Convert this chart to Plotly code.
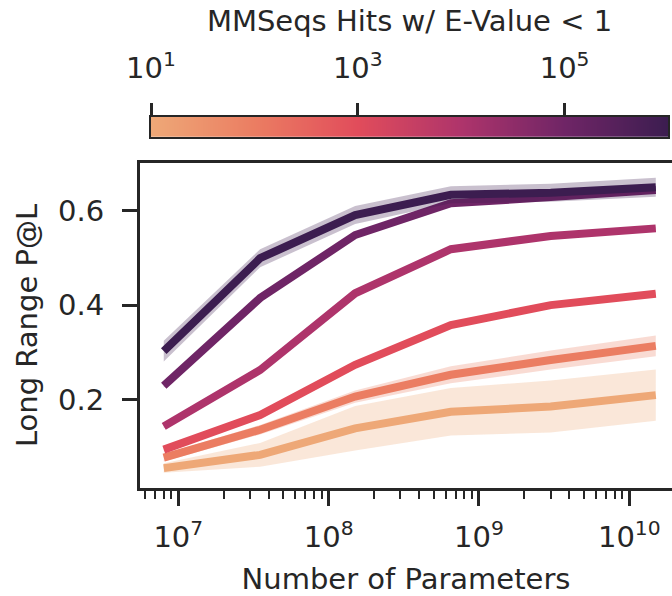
import plotly.graph_objects as go
from plotly.colors import sample_colorscale

# ---------------- data ----------------
params = [8e6, 35e6, 150e6, 650e6, 3e9, 15e9]
hit_exponents = [1, 2, 3, 4, 5, 6]          # log10(MMSeqs hits) per series

pal_1e1 = [0.056, 0.084, 0.140, 0.175, 0.186, 0.210]
pal_1e2 = [0.078, 0.137, 0.207, 0.253, 0.284, 0.314]
pal_1e3 = [0.095, 0.168, 0.274, 0.358, 0.400, 0.424]
pal_1e4 = [0.144, 0.263, 0.425, 0.518, 0.546, 0.562]
pal_1e5 = [0.230, 0.415, 0.548, 0.615, 0.628, 0.643]
pal_1e6 = [0.303, 0.499, 0.590, 0.633, 0.637, 0.649]

err_1e1 = [0.010, 0.025, 0.047, 0.050, 0.055, 0.054]
err_1e2 = [0.008, 0.010, 0.013, 0.018, 0.020, 0.022]
err_1e3 = [0.004, 0.004, 0.005, 0.005, 0.005, 0.005]
err_1e4 = [0.004, 0.004, 0.004, 0.004, 0.004, 0.004]
err_1e5 = [0.004, 0.004, 0.004, 0.004, 0.004, 0.004]
err_1e6 = [0.022, 0.019, 0.019, 0.018, 0.019, 0.020]

series_means = [pal_1e1, pal_1e2, pal_1e3, pal_1e4, pal_1e5, pal_1e6]
series_errs = [err_1e1, err_1e2, err_1e3, err_1e4, err_1e5, err_1e6]

x_tickvals = [1e7, 1e8, 1e9, 1e10]
x_ticktext = ["10<sup>7</sup>", "10<sup>8</sup>", "10<sup>9</sup>", "10<sup>10</sup>"]
y_tickvals = [0.2, 0.4, 0.6]
y_ticktext = ["0.2", "0.4", "0.6"]
cb_range = [1, 6]                             # colour bar spans 10^1 .. 10^6
cb_tickvals = [1, 3, 5]
cb_ticktext = ["10<sup>1</sup>", "10<sup>3</sup>", "10<sup>5</sup>"]

# ---------------- style ----------------
CSCALE = [[0.0, "#eea877"], [0.2, "#eb7d62"], [0.4, "#e14c5b"],
          [0.6, "#ae346b"], [0.8, "#6f2566"], [1.0, "#3c1d50"]]
CMIN, CMAX = cb_range
INK = "#262626"
FONT = "DejaVu Sans"
FS = 29


def rgba(rgb_str, a):
    vals = rgb_str[rgb_str.index("(") + 1:rgb_str.index(")")].split(",")
    r, g, b = [int(float(v)) for v in vals[:3]]
    return f"rgba({r},{g},{b},{a})"


fig = go.Figure()

for e, m, err in zip(hit_exponents, series_means, series_errs):
    col = sample_colorscale(CSCALE, [(e - CMIN) / (CMAX - CMIN)])[0]
    upper = [a + b for a, b in zip(m, err)]
    lower = [a - b for a, b in zip(m, err)]
    fig.add_trace(go.Scatter(
        x=params + params[::-1], y=upper + lower[::-1],
        fill="toself", fillcolor=rgba(col, 0.28), line=dict(width=0),
        mode="lines", hoverinfo="skip", showlegend=False))
    fig.add_trace(go.Scatter(
        x=params, y=m, mode="lines", line=dict(color=col, width=8),
        showlegend=False))

# colour bar drawn as a smoothed heatmap on its own axes
fig.add_trace(go.Heatmap(
    x=cb_range, y=[0, 1], z=[cb_range, cb_range],
    colorscale=CSCALE, zmin=CMIN, zmax=CMAX, zsmooth="best",
    showscale=False, hoverinfo="skip", xaxis="x2", yaxis="y2"))

PW, PH = 672 - 140, 596 - 108   # plotting region in pixels (l=140, b=108, t=0, r=0)

fig.update_layout(
    width=672, height=596,
    margin=dict(l=140, r=0, t=0, b=108, autoexpand=False),
    plot_bgcolor="white", paper_bgcolor="white",
    font=dict(family=FONT, size=FS, color=INK),
    showlegend=False,
    xaxis=dict(
        type="log", range=[6.745, 10.284], domain=[0, 1], anchor="y",
        tickvals=x_tickvals, ticktext=x_ticktext,
        ticks="outside", ticklen=15, tickwidth=2.5, tickcolor=INK,
        ticklabelstandoff=6,
        showline=True, linewidth=3, linecolor=INK, mirror=True,
        showgrid=False, zeroline=False, automargin=False,
        minor=dict(ticks="outside", ticklen=8, tickwidth=2, tickcolor=INK,
                   dtick="D1", showgrid=False),
        tickfont=dict(family=FONT, size=FS, color=INK),
        title=dict(text="Number of Parameters", standoff=18,
                   font=dict(family=FONT, size=FS, color=INK)),
    ),
    yaxis=dict(
        range=[0.014, 0.70], domain=[0, (488 - 163) / PH], anchor="x",
        tickvals=y_tickvals, ticktext=y_ticktext,
        ticks="outside", ticklen=15, tickwidth=2.5, tickcolor=INK,
        ticklabelstandoff=12,
        showline=True, linewidth=3, linecolor=INK, mirror=False,
        showgrid=False, zeroline=False, automargin=False,
        tickfont=dict(family=FONT, size=FS, color=INK),
        title=dict(text="Long Range P@L", standoff=12,
                   font=dict(family=FONT, size=FS, color=INK)),
    ),
    xaxis2=dict(
        range=cb_range, domain=[(151 - 140) / PW, (668 - 140) / PW], anchor="y2",
        side="top", tickvals=cb_tickvals, ticktext=cb_ticktext,
        ticks="outside", ticklen=12, tickwidth=2.5, tickcolor=INK,
        ticklabelstandoff=13,
        showline=True, linewidth=2, linecolor=INK, mirror=True,
        showgrid=False, zeroline=False, automargin=False,
        tickfont=dict(family=FONT, size=FS, color=INK),
        title=dict(text="MMSeqs Hits w/ E-Value &lt; 1", standoff=7,
                   font=dict(family=FONT, size=FS, color=INK)),
    ),
    yaxis2=dict(
        range=[0, 1], domain=[(488 - 136.7) / PH, (488 - 117) / PH], anchor="x2",
        showticklabels=False, ticks="", showline=True, linewidth=2,
        linecolor=INK, mirror=True, showgrid=False, zeroline=False,
        automargin=False,
    ),
)

fig.write_html("out.html",
               config={"displayModeBar": False},
               post_script="document.body.style.margin='0px';"
                           "document.body.style.padding='0px';")
